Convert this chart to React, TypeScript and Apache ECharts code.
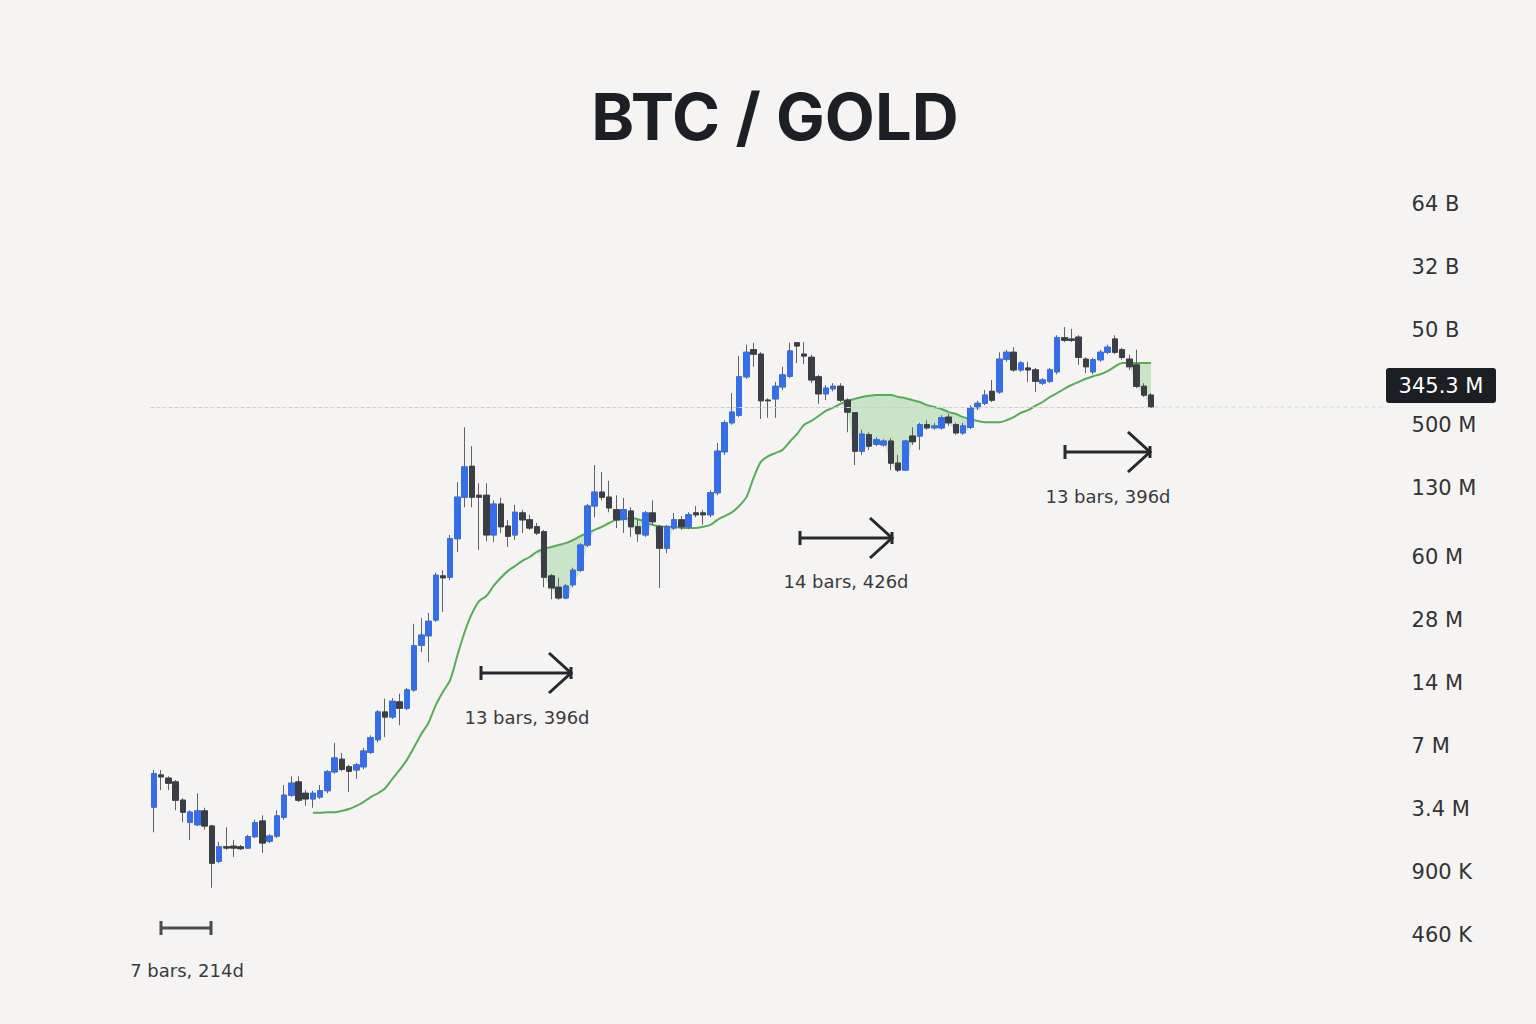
import React, { useEffect, useRef } from "react";
import * as echarts from "echarts";

// Monthly candles, values on the chart's log-level scale (10 units per labelled step)
const opens = [
  20.3, 25.4, 24.9, 24.3, 21.4, 17.9, 17.5, 19.7, 17.3, 11.7,
  14.0, 14.1, 14.0, 13.8, 15.6, 18.1, 14.9, 15.7, 18.7, 22.2,
  24.3, 22.5, 21.6, 21.9, 22.9, 25.9, 27.9, 26.7, 26.2, 26.7,
  29.0, 31.0, 35.4, 34.6, 37.0, 36.0, 38.9, 46.0, 47.5, 50.0,
  57.0, 56.8, 62.9, 69.5, 74.4, 69.8, 69.8, 63.5, 68.4, 64.9,
  63.5, 67.0, 65.9, 64.8, 64.0, 57.0, 55.2, 53.5, 55.6, 57.9,
  61.9, 68.1, 70.3, 69.5, 67.5, 66.0, 67.3, 64.8, 63.5, 67.0,
  64.8, 61.4, 64.6, 65.9, 64.8, 67.0, 67.0, 66.7, 70.2, 76.7,
  81.3, 82.5, 88.6, 92.9, 92.2, 84.9, 85.1, 87.0, 88.7, 94.0,
  92.2, 91.7, 88.6, 85.9, 86.7, 87.1, 84.9, 82.9, 76.8, 79.4,
  77.9, 77.8, 78.4, 74.9, 73.8, 79.2, 79.2, 81.0, 80.5, 80.5,
  82.2, 81.0, 79.7, 80.6, 83.7, 84.4, 86.3, 86.2, 91.4, 92.5,
  89.7, 90.0, 89.7, 87.6, 87.9, 89.4, 94.8, 94.6, 94.9, 91.4,
  89.4, 91.3, 92.5, 94.6, 92.9, 91.4, 90.5, 87.1, 85.7,
];
const closes = [
  25.6, 25.1, 24.1, 21.4, 19.5, 19.5, 19.7, 17.3, 11.4, 14.0,
  13.8, 13.8, 13.7, 15.6, 17.8, 14.6, 15.7, 18.9, 22.2, 24.1,
  21.4, 21.6, 22.5, 22.9, 25.9, 28.1, 26.3, 26.0, 27.0, 29.2,
  31.3, 35.4, 34.6, 37.1, 36.0, 38.9, 45.9, 47.6, 49.8, 57.1,
  56.7, 62.9, 69.5, 74.3, 69.5, 69.5, 63.5, 68.4, 64.8, 63.3,
  67.1, 65.9, 64.6, 63.8, 56.8, 55.1, 53.5, 55.4, 57.9, 61.9,
  68.1, 70.3, 69.5, 67.8, 65.9, 67.5, 64.8, 63.7, 67.0, 65.6,
  61.4, 64.8, 65.9, 64.8, 66.7, 66.7, 66.7, 70.2, 76.8, 81.3,
  83.0, 88.6, 92.5, 92.2, 84.8, 84.8, 87.1, 88.9, 92.7, 93.5,
  91.9, 88.1, 85.9, 86.8, 87.1, 84.9, 83.0, 76.8, 79.5, 77.6,
  78.6, 78.4, 74.9, 73.8, 78.4, 78.3, 81.0, 80.5, 80.8, 82.1,
  81.3, 79.7, 80.8, 83.7, 84.4, 85.7, 84.9, 91.4, 92.5, 89.7,
  90.8, 89.7, 87.9, 88.1, 89.7, 94.8, 94.4, 94.4, 91.7, 90.2,
  91.3, 92.5, 93.3, 92.5, 91.7, 90.2, 87.1, 85.7, 83.8,
];
const lows = [
  16.3, 23.0, 23.0, 19.8, 17.9, 15.1, 17.3, 16.7, 7.5, 11.4,
  13.5, 12.4, 13.5, 13.7, 15.4, 13.0, 14.6, 15.4, 18.3, 21.9,
  21.1, 20.5, 20.2, 21.6, 22.5, 25.6, 26.0, 22.7, 24.8, 26.3,
  28.7, 30.6, 31.4, 34.3, 33.3, 35.7, 38.6, 44.9, 43.3, 49.7,
  51.3, 56.3, 60.8, 67.9, 67.9, 61.1, 62.5, 62.4, 63.8, 61.6,
  62.7, 63.8, 64.3, 63.5, 55.2, 53.3, 53.2, 53.3, 55.2, 57.6,
  61.6, 66.3, 69.0, 67.1, 64.6, 63.8, 63.2, 62.4, 63.2, 65.1,
  55.1, 60.6, 64.3, 64.3, 64.4, 66.3, 65.1, 66.3, 69.8, 76.2,
  81.0, 82.2, 88.3, 90.2, 81.9, 82.1, 82.1, 86.5, 88.4, 90.8,
  90.6, 87.6, 84.3, 84.9, 86.3, 84.6, 79.8, 74.6, 76.2, 77.0,
  77.6, 77.5, 73.8, 73.5, 73.7, 77.8, 77.0, 80.2, 80.2, 80.2,
  80.8, 79.4, 79.4, 80.3, 83.3, 84.1, 84.6, 85.9, 91.0, 89.4,
  89.4, 87.8, 86.2, 87.3, 87.6, 89.0, 94.1, 94.1, 90.5, 89.2,
  89.0, 91.0, 92.2, 92.2, 91.3, 89.7, 86.8, 85.4, 83.7,
];
const highs = [
  26.2, 26.2, 25.2, 24.6, 21.7, 19.8, 22.5, 20.2, 17.5, 14.8,
  17.1, 15.1, 14.3, 15.9, 18.3, 19.0, 16.0, 19.8, 23.8, 25.2,
  25.2, 23.0, 22.9, 23.8, 26.2, 30.5, 28.9, 27.0, 27.3, 29.7,
  31.7, 35.7, 37.5, 37.6, 38.3, 39.2, 49.4, 50.3, 51.1, 57.5,
  57.9, 63.5, 71.9, 80.6, 77.6, 71.7, 71.7, 69.0, 69.4, 65.9,
  68.3, 67.5, 66.7, 65.4, 64.3, 57.3, 56.7, 55.7, 58.3, 62.2,
  68.4, 74.6, 73.5, 72.1, 69.8, 69.4, 67.9, 65.9, 67.3, 69.0,
  65.1, 65.1, 67.0, 66.5, 67.1, 68.1, 67.5, 70.6, 78.1, 81.7,
  86.0, 91.9, 93.7, 94.0, 92.5, 85.2, 87.8, 90.2, 94.0, 94.1,
  94.1, 92.1, 88.9, 87.3, 87.6, 87.6, 85.2, 83.0, 80.2, 79.8,
  79.0, 78.7, 78.9, 76.2, 78.6, 80.6, 81.3, 81.7, 81.3, 82.5,
  82.7, 81.3, 81.3, 84.1, 84.8, 86.5, 88.1, 92.5, 92.9, 93.3,
  91.1, 91.0, 90.0, 88.4, 90.0, 95.2, 96.5, 96.2, 95.2, 91.7,
  91.6, 92.9, 93.7, 95.2, 93.2, 92.1, 92.9, 87.6, 86.0,
];
// moving average (starts at the 23rd candle)
const maStart = 22;
const maValues = [
  19.4, 19.4, 19.5, 19.5, 19.7, 20.0, 20.5, 21.1, 21.9, 22.5,
  23.3, 24.8, 26.2, 27.8, 29.8, 31.9, 33.7, 36.5, 38.6, 40.5,
  44.4, 48.1, 51.0, 53.0, 53.8, 55.4, 56.7, 57.8, 58.6, 59.4,
  60.0, 60.8, 61.3, 61.6, 61.9, 62.2, 62.7, 63.3, 63.8, 64.3,
  64.8, 65.4, 65.9, 66.0, 66.2, 66.0, 65.6, 65.1, 64.9, 64.8,
  64.8, 64.6, 64.6, 64.6, 64.8, 65.1, 65.9, 66.5, 67.1, 68.1,
  69.5, 72.6, 75.1, 76.0, 76.5, 77.0, 78.3, 79.5, 81.0, 81.6,
  82.4, 83.2, 83.7, 84.3, 84.8, 85.1, 85.4, 85.6, 85.7, 85.7,
  85.7, 85.4, 85.2, 84.9, 84.6, 84.1, 83.8, 83.5, 83.0, 82.7,
  82.2, 81.9, 81.6, 81.4, 81.4, 81.4, 81.7, 82.2, 82.9, 83.3,
  84.0, 84.6, 85.4, 86.0, 86.7, 87.3, 87.8, 88.3, 88.7, 89.0,
  89.5, 90.2, 90.8, 90.8, 90.8, 90.8, 90.8,
];

const tickValues = [0, 10, 20, 30, 40, 50, 60, 71, 81, 96, 106, 116];
const tickLabels = ["460 K", "900 K", "3.4 M", "7 M", "14 M", "28 M", "60 M", "130 M", "500 M", "50 B", "32 B", "64 B"];
const lastPriceLabel = "345.3 M";
const titleText = "BTC / GOLD";

const measureTexts = ["7 bars, 214d", "13 bars, 396d", "14 bars, 426d", "13 bars, 396d"];

export default function App() {
  const ref = useRef<HTMLDivElement>(null);

  useEffect(() => {
    if (!ref.current) return;
    const chart = echarts.init(ref.current, undefined, { renderer: "svg" });

    const n = opens.length;
    const categories = opens.map((_, i) => String(i + 1));
    const candleData = opens.map((o, i) => [o, closes[i], lows[i], highs[i]]);
    const bodyData = opens.map((o, i) => [o, closes[i], Math.min(o, closes[i]), Math.max(o, closes[i])]);
    const ma = opens.map((_, i) => (i >= maStart ? maValues[i - maStart] : null));
    const fillLower = ma.map((m, i) =>
      m == null ? null : Math.min(m, Math.min(opens[i], closes[i]))
    );
    const fillBand = ma.map((m, i) =>
      m == null ? null : +(m - (fillLower[i] as number)).toFixed(2)
    );
    const lastClose = closes[n - 1];

    const BLUE = "#356ee8";
    const DARK = "#3b3e44";
    const WICK = "#5f6268";
    const font = "DejaVu Sans";
    const SMOOTH = 0.3;

    chart.setOption({
      animation: false,
      backgroundColor: "#f5f4f3",
      grid: { left: 150.4, top: 147.5, width: 1004.2, height: 850.5 },
      xAxis: {
        type: "category",
        data: categories,
        show: false,
        boundaryGap: true,
      },
      yAxis: {
        type: "value",
        position: "right",
        min: -10,
        max: 125,
        interval: 1,
        axisLine: { show: false },
        axisTick: { show: false },
        splitLine: { show: false },
        axisLabel: {
          show: true,
          margin: 257,
          align: "left",
          color: "#333",
          fontSize: 21,
          fontFamily: font,
          formatter: (v: number) => {
            const r = Math.round(v);
            if (Math.abs(v - r) > 1e-6) return "";
            const k = tickValues.indexOf(r);
            return k >= 0 ? tickLabels[k] : "";
          },
        },
      },
      series: [
        {
          type: "line",
          name: "fillBase",
          data: fillLower,
          stack: "band",
          symbol: "none",
          smooth: SMOOTH,
          silent: true,
          z: 1,
          lineStyle: { opacity: 0 },
          markLine: {
            silent: true,
            symbol: ["none", "none"],
            label: { show: false },
            lineStyle: { color: "#cfcfcf", type: "dashed", width: 1 },
            data: [{ yAxis: lastClose }],
          },
        },
        {
          type: "line",
          name: "fillBand",
          data: fillBand,
          stack: "band",
          symbol: "none",
          smooth: SMOOTH,
          silent: true,
          z: 1,
          lineStyle: { opacity: 0 },
          areaStyle: { color: "rgba(110,196,110,0.32)", opacity: 1 },
        },
        {
          type: "line",
          name: "MA",
          data: ma,
          symbol: "none",
          smooth: SMOOTH,
          silent: true,
          z: 2,
          lineStyle: { color: "#55ad55", width: 2 },
        },
        {
          type: "candlestick",
          name: "wicks",
          data: candleData,
          barWidth: 6,
          z: 3,
          silent: true,
          itemStyle: {
            color: WICK,
            color0: WICK,
            borderColor: WICK,
            borderColor0: WICK,
            borderWidth: 1,
          },
        },
        {
          type: "candlestick",
          name: "BTC/GOLD",
          data: bodyData,
          barWidth: 6,
          z: 4,
          silent: true,
          itemStyle: {
            color: BLUE,
            color0: DARK,
            borderColor: BLUE,
            borderColor0: DARK,
            borderWidth: 1,
          },
        },
      ],
    });

    const py = chart.convertToPixel({ yAxisIndex: 0 }, lastClose) as number;
    const gridRight = 150.4 + 1004.2;

    const measures = [
      { x1: 161, x2: 211, y: 928, tx: 187, ty: 970, arrow: false, color: "#4a4c50" },
      { x1: 481, x2: 571, y: 673, tx: 527, ty: 717, arrow: true, color: "#25282c" },
      { x1: 800, x2: 892, y: 538, tx: 846, ty: 581, arrow: true, color: "#25282c" },
      { x1: 1065, x2: 1150, y: 452, tx: 1108, ty: 496, arrow: true, color: "#25282c" },
    ];

    const graphics: any[] = [
      {
        type: "text",
        x: 775,
        y: 116,
        style: {
          text: titleText,
          fontFamily: "Inter",
          fontWeight: 700,
          fontSize: 65,
          fill: "#1c1f23",
          align: "center",
          verticalAlign: "middle",
        },
      },
      {
        type: "line",
        shape: { x1: gridRight, y1: py, x2: 1386, y2: py },
        style: { stroke: "#d6d6d6", lineWidth: 1, lineDash: [4, 3] },
      },
      {
        type: "rect",
        shape: { x: 1386, y: py - 39, width: 110, height: 35, r: 3 },
        style: { fill: "#1b1e22" },
      },
      {
        type: "text",
        x: 1441,
        y: py - 21,
        style: {
          text: lastPriceLabel,
          fontFamily: font,
          fontSize: 21,
          fill: "#ffffff",
          align: "center",
          verticalAlign: "middle",
        },
      },
    ];

    measures.forEach((m, i) => {
      const ls = { stroke: m.color, lineWidth: 3, lineCap: "butt" };
      graphics.push({ type: "line", shape: { x1: m.x1, y1: m.y, x2: m.x2, y2: m.y }, style: ls });
      graphics.push({ type: "line", shape: { x1: m.x1, y1: m.y - 7, x2: m.x1, y2: m.y + 7 }, style: ls });
      if (m.arrow) {
        graphics.push({ type: "line", shape: { x1: m.x2, y1: m.y - 6, x2: m.x2, y2: m.y + 6 }, style: ls });
        graphics.push({
          type: "polyline",
          shape: { points: [[m.x2 - 22, m.y - 20], [m.x2, m.y], [m.x2 - 22, m.y + 20]] },
          style: { stroke: m.color, lineWidth: 3, fill: null },
        });
      } else {
        graphics.push({ type: "line", shape: { x1: m.x2, y1: m.y - 7, x2: m.x2, y2: m.y + 7 }, style: ls });
      }
      graphics.push({
        type: "text",
        x: m.tx,
        y: m.ty,
        style: {
          text: measureTexts[i],
          fontFamily: font,
          fontSize: 18,
          fill: "#3a3b3d",
          align: "center",
          verticalAlign: "middle",
        },
      });
    });

    chart.setOption({ graphic: graphics });

    return () => chart.dispose();
  }, []);

  return (
    <div
      style={{ position: "fixed", left: 0, top: 0, width: 1536, height: 1024, background: "#f5f4f3" }}
    >
      <div ref={ref} style={{ width: 1536, height: 1024 }} />
    </div>
  );
}
